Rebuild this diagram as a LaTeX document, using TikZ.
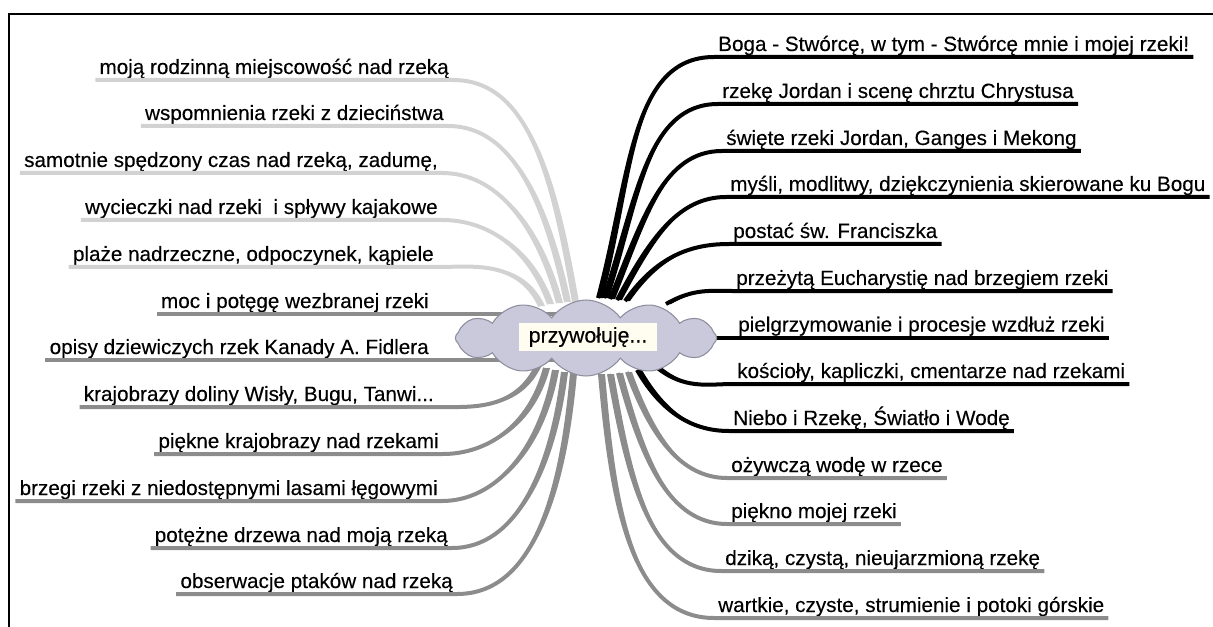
\documentclass[tikz,border=0pt]{standalone}
\usepackage{fontspec}
\setmainfont{Liberation Sans}
\newfontfamily\leaffont{Liberation Sans}[FakeBold=0.25]
\usetikzlibrary{shapes.symbols}
\usetikzlibrary{calc}

\definecolor{lightbranch}{HTML}{D2D2D2}
\definecolor{midbranch}{HTML}{8C8C8C}
\definecolor{cloudfill}{HTML}{C9C9DB}
\definecolor{cloudline}{HTML}{8E8E9E}
\definecolor{titlefill}{HTML}{FFFDF0}

\tikzset{
	leaf/.style={font=\leaffont\fontsize{15.5}{18}\selectfont, text=black, inner xsep=3pt, inner ysep=0pt, text depth=4.3pt, text height=11pt},
	twig/.style={line width=3pt},
	cloudy/.style={cloud, cloud puffs=12, cloud puff arc=110, cloud ignores aspect, fill=cloudfill, draw=cloudline, line width=0.8pt, minimum width=196pt, minimum height=57pt},
	title/.style={fill=titlefill, font=\leaffont\fontsize{16}{18}\selectfont, inner xsep=7pt, minimum height=20pt},
}

% underline + curved branch to the cloud, thickened near the cloud
\newcommand{\twig}[6]{%
	\draw[twig,#1] (#2) -- (#3) to[out=#4,in=#5,out looseness=0.8,in looseness=1.2] (#6);
	\fill[#1] (#3) to[out=#4,in=#5,out looseness=0.8,in looseness=1.2] (#6) -- ++(5,0) to[out=#5,in=#4,out looseness=1.2,in looseness=0.8] (#3) -- cycle;
}

\begin{document}
\begin{tikzpicture}[x=0.75pt, y=0.75pt]

	\useasboundingbox (0,0) rectangle (1213,-627);
	%frame
	\draw[line width=1.6pt] (9,-627) -- (9,-14) -- (1213,-14);

	%centre of the cloud
	\coordinate (core) at (586,-338);

	%left labels
	\node[leaf, anchor=south east] (l1) at (453,-80) {moją rodzinną miejscowość nad rzeką};
	\node[leaf, anchor=south east] (l2) at (448,-126) {wspomnienia rzeki z dzieciństwa};
	\node[leaf, anchor=south east] (l3) at (442,-173) {samotnie spędzony czas nad rzeką, zadumę,};
	\node[leaf, anchor=south east] (l4) at (442,-220) {wycieczki nad rzeki\ \ i spływy kajakowe};
	\node[leaf, anchor=south east] (l5) at (438,-267) {plaże nadrzeczne, odpoczynek, kąpiele};
	\node[leaf, anchor=south east] (l6) at (433,-314) {moc i potęgę wezbranej rzeki};
	\node[leaf, anchor=south east] (l7) at (433,-360) {opisy dziewiczych rzek Kanady A. Fidlera};
	\node[leaf, anchor=south east] (l8) at (438,-407) {krajobrazy doliny Wisły, Bugu, Tanwi...};
	\node[leaf, anchor=south east] (l9) at (443,-454) {piękne krajobrazy nad rzekami};
	\node[leaf, anchor=south east] (l10) at (442,-501) {brzegi rzeki z niedostępnymi lasami łęgowymi};
	\node[leaf, anchor=south east] (l11) at (452,-548) {potężne drzewa nad moją rzeką};
	\node[leaf, anchor=south east] (l12) at (457,-594) {obserwacje ptaków nad rzeką};

	%right labels
	\node[leaf, anchor=south west] (r1) at (714,-57) {Boga - Stwórcę, w tym - Stwórcę mnie i mojej rzeki!};
	\node[leaf, anchor=south west] (r2) at (718,-104) {rzekę Jordan i scenę chrztu Chrystusa};
	\node[leaf, anchor=south west] (r3) at (722,-151) {święte rzeki Jordan, Ganges i Mekong};
	\node[leaf, anchor=south west] (r4) at (726,-197) {myśli, modlitwy, dziękczynienia skierowane ku Bogu};
	\node[leaf, anchor=south west] (r5) at (729,-244) {postać św. Franciszka};
	\node[leaf, anchor=south west] (r6) at (732,-291) {przeżytą Eucharystię nad brzegiem rzeki};
	\node[leaf, anchor=south west] (r7) at (734,-337.5) {pielgrzymowanie i procesje wzdłuż rzeki};
	\node[leaf, anchor=south west] (r8) at (733,-384) {kościoły, kapliczki, cmentarze nad rzekami};
	\node[leaf, anchor=south west] (r9) at (729,-431) {Niebo i Rzekę, Światło i Wodę};
	\node[leaf, anchor=south west] (r10) at (727,-478) {ożywczą wodę w rzece};
	\node[leaf, anchor=south west] (r11) at (727,-524) {piękno mojej rzeki};
	\node[leaf, anchor=south west] (r12) at (721,-571) {dziką, czystą, nieujarzmioną rzekę};
	\node[leaf, anchor=south west] (r13) at (714,-618) {wartkie, czyste, strumienie i potoki górskie};

	%upper left branches
	\twig{lightbranch}{l1.south west}{l1.south east}{0}{100}{574,-302}
	\twig{lightbranch}{l2.south west}{l2.south east}{0}{102}{566,-302}
	\twig{lightbranch}{l3.south west}{l3.south east}{0}{105}{558,-303}
	\twig{lightbranch}{l4.south west}{l4.south east}{0}{110}{549,-304}
	\twig{lightbranch}{l5.south west}{l5.south east}{0}{115}{540,-306}
	%straight left branches
	\draw[twig, midbranch] (l6.south west) -- (l6.south east -| core);
	\draw[twig, midbranch] (l7.south west) -- (l7.south east -| core);
	%lower left branches
	\twig{midbranch}{l8.south west}{l8.south east}{0}{-115}{537,-365}
	\twig{midbranch}{l9.south west}{l9.south east}{0}{-105}{545,-368}
	\twig{midbranch}{l10.south west}{l10.south east}{0}{-100}{554,-370}
	\twig{midbranch}{l11.south west}{l11.south east}{0}{-97}{563,-372}
	\twig{midbranch}{l12.south west}{l12.south east}{0}{-95}{572,-373}

	%upper right branches
	\twig{black}{r1.south east}{r1.south west}{180}{75}{598,-298}
	\twig{black}{r2.south east}{r2.south west}{180}{72}{604,-298}
	\twig{black}{r3.south east}{r3.south west}{180}{68}{610,-299}
	\twig{black}{r4.south east}{r4.south west}{180}{62}{617,-300}
	\twig{black}{r5.south east}{r5.south west}{180}{55}{625,-301}
	\twig{black}{r6.south east}{r6.south west}{180}{30}{666,-304}
	\draw[twig, black] (r7.south east) -- (r7.south west -| core);
	%lower right branches
	\twig{black}{r8.south east}{r8.south west}{180}{-40}{655,-366}
	\twig{black}{r9.south east}{r9.south west}{180}{-60}{637,-370}
	\twig{midbranch}{r10.south east}{r10.south west}{180}{-70}{627,-372}
	\twig{midbranch}{r11.south east}{r11.south west}{180}{-75}{618,-373}
	\twig{midbranch}{r12.south east}{r12.south west}{180}{-80}{609,-374}
	\twig{midbranch}{r13.south east}{r13.south west}{180}{-85}{600,-374}

	%cloud and its word
	\node[cloudy] (hub) at (core) {};
	\node[title] (word) at (588,-337) {przywołuję...};

\end{tikzpicture}
\end{document}
